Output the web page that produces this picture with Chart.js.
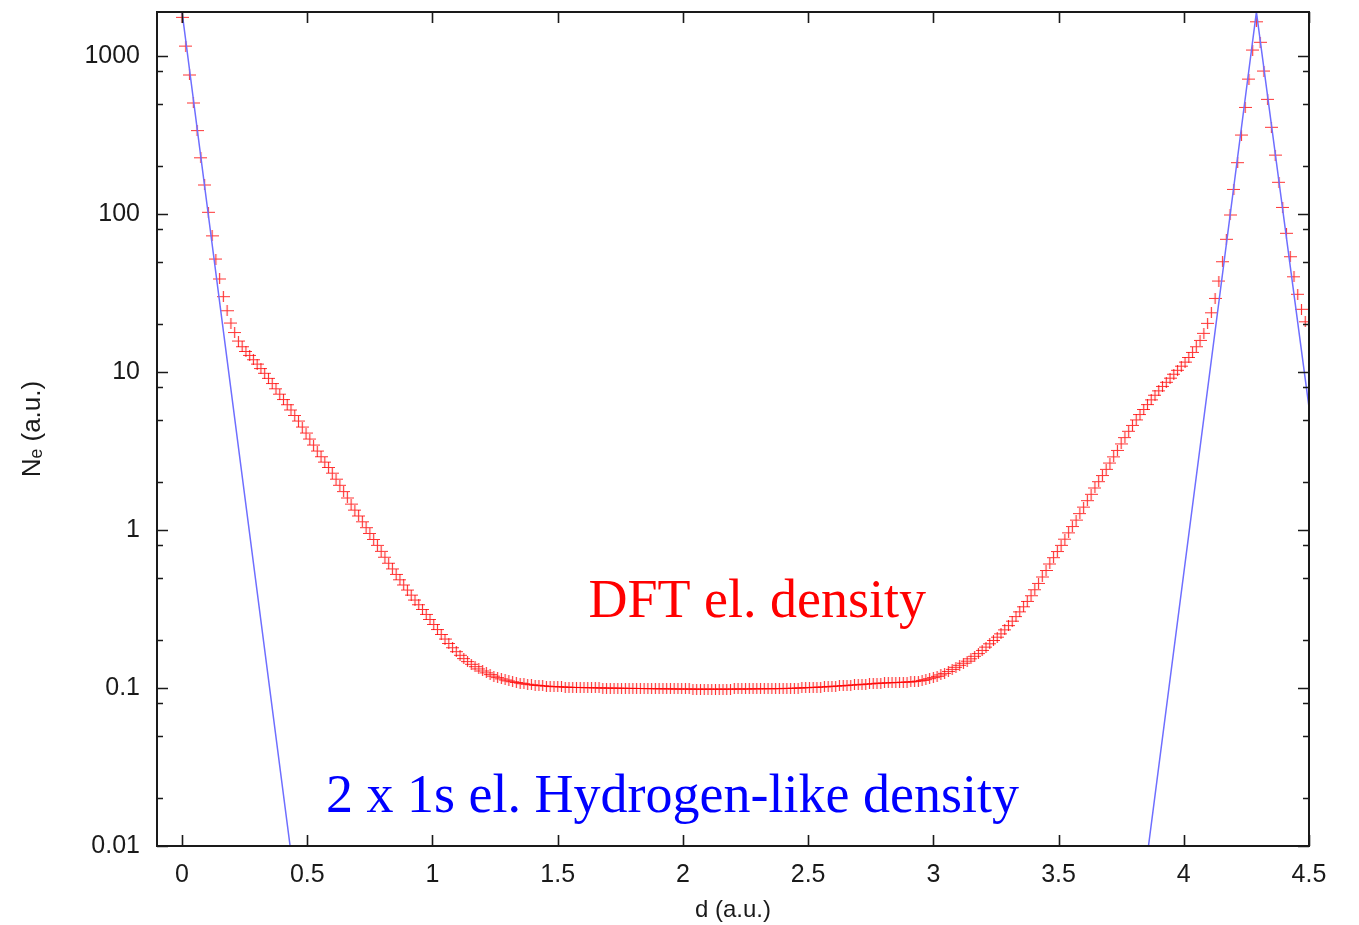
<!DOCTYPE html>
<html><head><meta charset="utf-8">
<script src="https://cdn.jsdelivr.net/npm/chart.js@4.4.1/dist/chart.umd.min.js"></script>
<style>html,body{margin:0;padding:0;background:#fff;}canvas{display:block;}</style>
</head><body>
<canvas id="c" width="1359" height="925"></canvas>
<script>
// DFT electron density, sampled on a uniform grid starting at d = 0 (a.u.)
const dftStart = 0;
const dftStep = 0.015;
// log10 of the density, one value per marker
const dftLog10 = [
 3.245, 3.063, 2.880, 2.703, 2.528, 2.356, 2.184, 2.011, 1.862, 1.715,
 1.589, 1.477, 1.388, 1.310, 1.250, 1.196, 1.160, 1.130, 1.105, 1.078,
 1.050, 1.022, 0.992, 0.960, 0.927, 0.894, 0.860, 0.826, 0.793, 0.760,
 0.725, 0.690, 0.652, 0.614, 0.576, 0.538, 0.500, 0.464, 0.430, 0.396,
 0.360, 0.322, 0.283, 0.243, 0.203, 0.164, 0.126, 0.089, 0.052, 0.015,
 -0.022, -0.060, -0.097, -0.135, -0.172, -0.210, -0.246, -0.281, -0.315, -0.348,
 -0.380, -0.412, -0.443, -0.473, -0.503, -0.534, -0.566, -0.598, -0.630, -0.661,
 -0.690, -0.718, -0.745, -0.770, -0.793, -0.814, -0.833, -0.850, -0.865, -0.879,
 -0.892, -0.904, -0.915, -0.925, -0.934, -0.942, -0.949, -0.955, -0.960, -0.965,
 -0.969, -0.973, -0.976, -0.979, -0.982, -0.984, -0.986, -0.988, -0.990, -0.991,
 -0.992, -0.993, -0.994, -0.995, -0.996, -0.996, -0.997, -0.997, -0.998, -0.998,
 -0.999, -0.999, -1.000, -1.000, -1.000, -1.001, -1.001, -1.001, -1.002, -1.002,
 -1.002, -1.003, -1.003, -1.003, -1.004, -1.004, -1.004, -1.005, -1.005, -1.005,
 -1.005, -1.006, -1.006, -1.006, -1.006, -1.006, -1.007, -1.007, -1.007, -1.007,
 -1.007, -1.007, -1.007, -1.007, -1.007, -1.007, -1.007, -1.006, -1.006, -1.006,
 -1.006, -1.006, -1.005, -1.005, -1.005, -1.005, -1.004, -1.004, -1.004, -1.004,
 -1.003, -1.002, -1.002, -1.001, -1.000, -0.999, -0.998, -0.997, -0.996, -0.995,
 -0.994, -0.993, -0.991, -0.990, -0.988, -0.987, -0.985, -0.984, -0.982, -0.980,
 -0.979, -0.977, -0.976, -0.974, -0.972, -0.970, -0.969, -0.968, -0.967, -0.966,
 -0.965, -0.964, -0.963, -0.962, -0.961, -0.959, -0.956, -0.952, -0.947, -0.941,
 -0.934, -0.926, -0.917, -0.907, -0.895, -0.882, -0.869, -0.856, -0.843, -0.830,
 -0.815, -0.799, -0.782, -0.762, -0.741, -0.720, -0.699, -0.678, -0.657, -0.632,
 -0.605, -0.577, -0.548, -0.518, -0.486, -0.452, -0.416, -0.378, -0.338, -0.297,
 -0.256, -0.215, -0.175, -0.136, -0.097, -0.058, -0.018, 0.022, 0.063, 0.104,
 0.145, 0.186, 0.226, 0.266, 0.306, 0.345, 0.384, 0.424, 0.463, 0.504,
 0.545, 0.585, 0.625, 0.662, 0.697, 0.731, 0.763, 0.794, 0.824, 0.853,
 0.881, 0.909, 0.935, 0.961, 0.986, 1.011, 1.037, 1.063, 1.092, 1.124,
 1.160, 1.200, 1.245, 1.308, 1.375, 1.466, 1.576, 1.698, 1.840, 1.994,
 2.156, 2.325, 2.500, 2.675, 2.854, 3.038, 3.217, 3.087, 2.905, 2.726,
 2.549, 2.373, 2.201, 2.042, 1.878, 1.730, 1.603, 1.492, 1.397, 1.318
];

// 2 x 1s hydrogen-like density: straight segments on the log plot (null = gap)
const hydrogenX = [0, 0.4315, 2.15, 3.859, 4.29, 4.5];
const hydrogenY = [1900, 0.01, null, 0.01, 1900, 6.0];

const xTickValues = [0, 0.5, 1, 1.5, 2, 2.5, 3, 3.5, 4, 4.5];
const xTickLabels = ['0', '0.5', '1', '1.5', '2', '2.5', '3', '3.5', '4', '4.5'];
const yTickValues = [0.01, 0.1, 1, 10, 100, 1000];
const yTickLabels = ['0.01', '0.1', '1', '10', '100', '1000'];
const yMinorTicks = [0.02, 0.05, 0.08, 0.2, 0.5, 0.8, 2, 5, 8, 20, 50, 80, 200, 500, 800];

const xMin = -0.1, xMax = 4.5, yMin = 0.01, yMax = 1900;

const dftPoints = dftLog10.map((v, i) => ({ x: dftStart + i * dftStep, y: Math.pow(10, v) }));
const hydrogenPoints = hydrogenX.map((x, i) => ({ x: x, y: hydrogenY[i] }));

const AXIS_COLOR = '#1a1a1a';

// gnuplot-like "+" marker (slightly wider than tall, as in the reference)
function makePlusMarker() {
  const w = 13, h = 11;
  const c = document.createElement('canvas');
  c.width = w; c.height = h;
  const g = c.getContext('2d');
  g.strokeStyle = 'rgba(255,0,0,0.8)';
  g.lineWidth = 1.2;
  g.beginPath();
  g.moveTo(0, h / 2); g.lineTo(w, h / 2);
  g.moveTo(w / 2, 0); g.lineTo(w / 2, h);
  g.stroke();
  return c;
}
const plusMarker = makePlusMarker();

const framePlugin = {
  id: 'frameTicks',
  afterDraw(chart) {
    const ctx = chart.ctx;
    const a = chart.chartArea;
    const xs = chart.scales.x, ys = chart.scales.y;
    ctx.save();
    ctx.strokeStyle = AXIS_COLOR;
    ctx.lineWidth = 2;
    ctx.strokeRect(a.left, a.top, a.right - a.left, a.bottom - a.top);
    ctx.lineWidth = 1.6;
    ctx.beginPath();
    const major = 11, minor = 6;
    xTickValues.forEach(v => {
      const p = Math.round(xs.getPixelForValue(v)) + 0.5;
      ctx.moveTo(p, a.bottom); ctx.lineTo(p, a.bottom - major);
      ctx.moveTo(p, a.top); ctx.lineTo(p, a.top + major);
    });
    yTickValues.forEach(v => {
      const p = Math.round(ys.getPixelForValue(v)) + 0.5;
      ctx.moveTo(a.left, p); ctx.lineTo(a.left + major, p);
      ctx.moveTo(a.right, p); ctx.lineTo(a.right - major, p);
    });
    yMinorTicks.forEach(v => {
      const p = Math.round(ys.getPixelForValue(v)) + 0.5;
      ctx.moveTo(a.left, p); ctx.lineTo(a.left + minor, p);
      ctx.moveTo(a.right, p); ctx.lineTo(a.right - minor, p);
    });
    ctx.stroke();
    ctx.restore();
  }
};

const annotations = [
  { text: 'DFT el. density', x: 1.623, y: 0.281, color: '#ff0000' },
  { text: '2 x 1s el. Hydrogen-like density', x: 0.575, y: 0.0164, color: '#0000ff' }
];

const labelPlugin = {
  id: 'curveLabels',
  afterDatasetsDraw(chart) {
    const ctx = chart.ctx;
    const xs = chart.scales.x, ys = chart.scales.y;
    ctx.save();
    ctx.font = '54px "Liberation Serif", "Times New Roman", serif';
    ctx.textAlign = 'left';
    ctx.textBaseline = 'alphabetic';
    annotations.forEach(an => {
      ctx.fillStyle = an.color;
      ctx.fillText(an.text, xs.getPixelForValue(an.x), ys.getPixelForValue(an.y));
    });
    ctx.restore();
  }
};

const tickFont = { family: '"Liberation Sans", Arial, Helvetica, sans-serif', size: 25 };
const xTitleFont = { family: '"Liberation Sans", Arial, Helvetica, sans-serif', size: 24 };
const yTitleFont = { family: '"Liberation Sans", Arial, Helvetica, sans-serif', size: 26 };

new Chart(document.getElementById('c'), {
  type: 'line',
  data: {
    datasets: [
      {
        label: '2 x 1s el. Hydrogen-like density',
        data: hydrogenPoints,
        borderColor: '#6e6eff',
        borderWidth: 1.5,
        pointRadius: 0,
        showLine: true,
        spanGaps: false,
        tension: 0
      },
      {
        label: 'DFT el. density',
        data: dftPoints,
        showLine: false,
        pointStyle: plusMarker,
        pointRadius: 6
      }
    ]
  },
  options: {
    responsive: false,
    animation: false,
    events: [],
    layout: { padding: { left: 0, top: 12, right: 50, bottom: 0 } },
    plugins: { legend: { display: false }, tooltip: { enabled: false } },
    scales: {
      x: {
        type: 'linear',
        min: xMin, max: xMax,
        afterBuildTicks: s => { s.ticks = xTickValues.map(v => ({ value: v })); },
        afterFit: s => { s.height = 79; s.paddingLeft = 0; s.paddingRight = 0; },
        grid: { display: false, drawTicks: false },
        border: { display: false },
        ticks: {
          autoSkip: false, maxRotation: 0, padding: 14,
          color: AXIS_COLOR, font: tickFont,
          callback: (v, i) => xTickLabels[i]
        },
        title: { display: true, text: 'd (a.u.)', color: AXIS_COLOR, font: xTitleFont, padding: { top: 0, bottom: 0 } }
      },
      y: {
        type: 'logarithmic',
        min: yMin, max: yMax,
        afterBuildTicks: s => { s.ticks = yTickValues.map(v => ({ value: v })); },
        afterFit: s => { s.width = 157; s.paddingTop = 0; s.paddingBottom = 0; },
        grid: { display: false, drawTicks: false },
        border: { display: false },
        ticks: {
          autoSkip: false, padding: 17,
          color: AXIS_COLOR, font: tickFont,
          callback: (v, i) => yTickLabels[i]
        },
        title: { display: true, text: 'Nₑ (a.u.)', color: AXIS_COLOR, font: yTitleFont, padding: { top: 17, bottom: 0 } }
      }
    }
  },
  plugins: [framePlugin, labelPlugin]
});
</script>
</body></html>
